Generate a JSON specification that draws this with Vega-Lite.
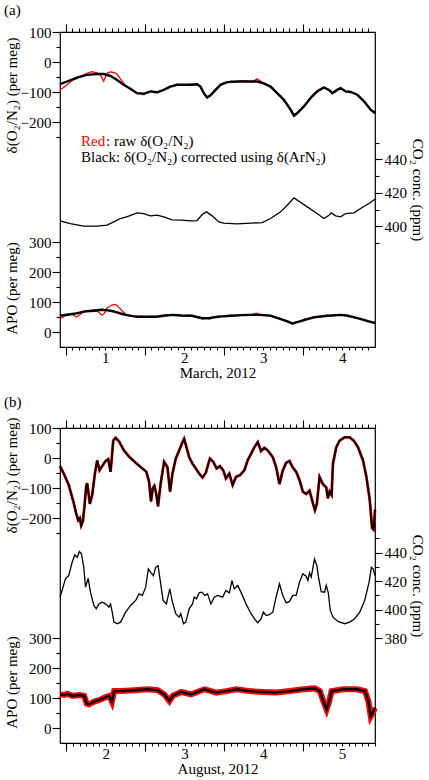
{
  "$schema": "https://vega.github.io/schema/vega-lite/v6.json",
  "padding": {"top": 2, "left": 3, "right": 2, "bottom": 0},
  "spacing": 13,
  "config": {
    "font": "Liberation Serif",
    "view": {"stroke": "black", "strokeWidth": 1.2},
    "axis": {
      "grid": false, "ticks": true, "domain": false, "tickColor": "#000000", "tickWidth": 1.1, "tickOpacity": 1,
      "labelColor": "black", "titleColor": "black", "labelFont": "Liberation Serif", "titleFont": "Liberation Serif",
      "labelFontSize": 15, "titleFontSize": 15, "titleFontWeight": "normal", "labelFlush": false, "labelOverlap": false
    },
    "title": {"font": "Liberation Serif", "fontSize": 15, "fontWeight": "normal", "anchor": "start", "color": "black"},
    "text": {"font": "Liberation Serif", "fontSize": 15, "color": "black"}
  },
  "datasets": {
    "a_o2cor": [
      {"day":0.428,"o2":-74},{"day":0.517,"o2":-65},{"day":0.643,"o2":-52},{"day":0.770,"o2":-43},{"day":0.897,"o2":-40},
      {"day":0.981,"o2":-40},{"day":1.066,"o2":-46},{"day":1.150,"o2":-60},{"day":1.235,"o2":-76},{"day":1.319,"o2":-89},
      {"day":1.404,"o2":-104},{"day":1.488,"o2":-106},{"day":1.573,"o2":-98},{"day":1.657,"o2":-101},{"day":1.742,"o2":-93},
      {"day":1.826,"o2":-82},{"day":1.911,"o2":-76},{"day":1.995,"o2":-76},{"day":2.080,"o2":-76},{"day":2.164,"o2":-74},
      {"day":2.207,"o2":-82},{"day":2.249,"o2":-104},{"day":2.291,"o2":-118},{"day":2.333,"o2":-111},{"day":2.397,"o2":-93},
      {"day":2.460,"o2":-76},{"day":2.545,"o2":-67},{"day":2.671,"o2":-65},{"day":2.798,"o2":-65},{"day":2.925,"o2":-65},
      {"day":3.009,"o2":-71},{"day":3.094,"o2":-82},{"day":3.178,"o2":-104},{"day":3.263,"o2":-126},{"day":3.347,"o2":-159},
      {"day":3.390,"o2":-178},{"day":3.432,"o2":-170},{"day":3.516,"o2":-148},{"day":3.601,"o2":-120},{"day":3.685,"o2":-98},
      {"day":3.770,"o2":-85},{"day":3.833,"o2":-93},{"day":3.875,"o2":-104},{"day":3.939,"o2":-93},{"day":3.981,"o2":-87},
      {"day":4.044,"o2":-98},{"day":4.108,"o2":-100},{"day":4.192,"o2":-109},{"day":4.277,"o2":-131},{"day":4.361,"o2":-159},
      {"day":4.416,"o2":-170}
    ],
    "a_o2raw": [
      {"day":0.428,"o2":-92},{"day":0.47,"o2":-86},{"day":0.517,"o2":-76},{"day":0.58,"o2":-62},{"day":0.643,"o2":-55},
      {"day":0.70,"o2":-46},{"day":0.770,"o2":-38},{"day":0.83,"o2":-32},{"day":0.897,"o2":-36},{"day":0.94,"o2":-44},
      {"day":0.981,"o2":-64},{"day":1.00,"o2":-52},{"day":1.03,"o2":-36},{"day":1.066,"o2":-33},{"day":1.108,"o2":-35},
      {"day":1.150,"o2":-40},{"day":1.193,"o2":-56},{"day":1.235,"o2":-72},{"day":1.28,"o2":-83},{"day":1.319,"o2":-90},
      {"day":1.36,"o2":-98},{"day":1.404,"o2":-106},{"day":1.45,"o2":-104},{"day":1.488,"o2":-109},{"day":1.53,"o2":-100},
      {"day":1.573,"o2":-97},{"day":1.62,"o2":-103},{"day":1.657,"o2":-100},{"day":1.70,"o2":-96},{"day":1.742,"o2":-92},
      {"day":1.78,"o2":-86},{"day":1.826,"o2":-80},{"day":1.87,"o2":-78},{"day":1.911,"o2":-74},{"day":1.95,"o2":-78},
      {"day":1.995,"o2":-75},{"day":2.04,"o2":-78},{"day":2.080,"o2":-74},{"day":2.12,"o2":-77},{"day":2.164,"o2":-72},
      {"day":2.207,"o2":-84},{"day":2.249,"o2":-106},{"day":2.291,"o2":-120},{"day":2.333,"o2":-112},{"day":2.397,"o2":-95},
      {"day":2.460,"o2":-75},{"day":2.50,"o2":-70},{"day":2.545,"o2":-68},{"day":2.60,"o2":-64},{"day":2.671,"o2":-66},
      {"day":2.73,"o2":-62},{"day":2.798,"o2":-64},{"day":2.86,"o2":-66},{"day":2.925,"o2":-56},{"day":2.96,"o2":-63},
      {"day":3.009,"o2":-72},{"day":3.05,"o2":-76},{"day":3.094,"o2":-84},{"day":3.14,"o2":-94},{"day":3.178,"o2":-106},
      {"day":3.22,"o2":-115},{"day":3.263,"o2":-130},{"day":3.30,"o2":-140},{"day":3.347,"o2":-162},{"day":3.390,"o2":-182},
      {"day":3.432,"o2":-172},{"day":3.47,"o2":-160},{"day":3.516,"o2":-146},{"day":3.56,"o2":-132},{"day":3.601,"o2":-118},
      {"day":3.64,"o2":-106},{"day":3.685,"o2":-96},{"day":3.73,"o2":-88},{"day":3.770,"o2":-83},{"day":3.80,"o2":-88},
      {"day":3.833,"o2":-94},{"day":3.875,"o2":-102},{"day":3.91,"o2":-95},{"day":3.939,"o2":-91},{"day":3.981,"o2":-85},
      {"day":4.01,"o2":-92},{"day":4.044,"o2":-99},{"day":4.08,"o2":-97},{"day":4.108,"o2":-101},{"day":4.15,"o2":-104},
      {"day":4.192,"o2":-110},{"day":4.23,"o2":-120},{"day":4.277,"o2":-132},{"day":4.32,"o2":-146},{"day":4.361,"o2":-160},
      {"day":4.39,"o2":-166},{"day":4.416,"o2":-172}
    ],
    "a_co2": [
      {"day":0.428,"co2":403.2},{"day":0.559,"co2":401.6},{"day":0.728,"co2":400.0},{"day":0.897,"co2":400.0},{"day":1.024,"co2":400.6},
      {"day":1.108,"co2":402.6},{"day":1.193,"co2":404.6},{"day":1.298,"co2":406.0},{"day":1.404,"co2":408.0},{"day":1.488,"co2":407.6},
      {"day":1.573,"co2":406.2},{"day":1.657,"co2":406.6},{"day":1.742,"co2":405.6},{"day":1.848,"co2":403.8},{"day":1.974,"co2":403.6},
      {"day":2.080,"co2":403.2},{"day":2.164,"co2":403.4},{"day":2.228,"co2":407.0},{"day":2.283,"co2":408.6},{"day":2.354,"co2":406.2},
      {"day":2.439,"co2":402.6},{"day":2.502,"co2":401.8},{"day":2.671,"co2":401.4},{"day":2.840,"co2":401.8},{"day":2.988,"co2":402.2},
      {"day":3.094,"co2":404.6},{"day":3.221,"co2":408.6},{"day":3.326,"co2":413.6},{"day":3.390,"co2":417.0},{"day":3.453,"co2":415.0},
      {"day":3.559,"co2":411.6},{"day":3.664,"co2":408.2},{"day":3.770,"co2":404.6},{"day":3.833,"co2":406.6},{"day":3.863,"co2":408.0},
      {"day":3.918,"co2":406.2},{"day":3.981,"co2":405.6},{"day":4.044,"co2":407.6},{"day":4.150,"co2":408.0},{"day":4.234,"co2":410.6},
      {"day":4.340,"co2":413.6},{"day":4.416,"co2":416.2}
    ],
    "a_apocor": [
      {"day":0.428,"apo":54},{"day":0.58,"apo":60},{"day":0.631,"apo":62},{"day":0.733,"apo":68},{"day":0.833,"apo":71},
      {"day":0.96,"apo":74},{"day":1.011,"apo":73},{"day":1.087,"apo":70},{"day":1.138,"apo":66},{"day":1.214,"apo":60},
      {"day":1.264,"apo":57},{"day":1.35,"apo":53},{"day":1.429,"apo":51},{"day":1.644,"apo":51},{"day":1.847,"apo":57},
      {"day":1.95,"apo":55},{"day":2.101,"apo":54},{"day":2.228,"apo":46},{"day":2.316,"apo":46},{"day":2.38,"apo":49},
      {"day":2.48,"apo":52},{"day":2.591,"apo":54},{"day":2.798,"apo":57},{"day":2.971,"apo":57},{"day":3.098,"apo":54},
      {"day":3.225,"apo":43},{"day":3.30,"apo":36},{"day":3.372,"apo":29},{"day":3.478,"apo":36},{"day":3.56,"apo":43},
      {"day":3.647,"apo":49},{"day":3.812,"apo":54},{"day":3.985,"apo":57},{"day":4.07,"apo":54},{"day":4.154,"apo":49},
      {"day":4.24,"apo":43},{"day":4.323,"apo":36},{"day":4.416,"apo":30}
    ],
    "a_aporaw": [
      {"day":0.428,"apo":44},{"day":0.47,"apo":50},{"day":0.504,"apo":56},{"day":0.54,"apo":58},{"day":0.58,"apo":60},
      {"day":0.631,"apo":50},{"day":0.68,"apo":58},{"day":0.733,"apo":70},{"day":0.78,"apo":72},{"day":0.833,"apo":68},
      {"day":0.90,"apo":70},{"day":0.96,"apo":56},{"day":0.99,"apo":62},{"day":1.023,"apo":80},{"day":1.06,"apo":86},
      {"day":1.087,"apo":90},{"day":1.12,"apo":92},{"day":1.15,"apo":88},{"day":1.19,"apo":78},{"day":1.214,"apo":70},
      {"day":1.264,"apo":58},{"day":1.31,"apo":54},{"day":1.35,"apo":53},{"day":1.40,"apo":49},{"day":1.45,"apo":53},
      {"day":1.52,"apo":50},{"day":1.60,"apo":53},{"day":1.644,"apo":50},{"day":1.70,"apo":55},{"day":1.78,"apo":58},
      {"day":1.847,"apo":56},{"day":1.92,"apo":58},{"day":2.00,"apo":54},{"day":2.06,"apo":57},{"day":2.101,"apo":53},
      {"day":2.17,"apo":48},{"day":2.228,"apo":44},{"day":2.28,"apo":47},{"day":2.316,"apo":44},{"day":2.38,"apo":50},
      {"day":2.44,"apo":53},{"day":2.52,"apo":51},{"day":2.591,"apo":56},{"day":2.66,"apo":54},{"day":2.72,"apo":58},
      {"day":2.798,"apo":55},{"day":2.87,"apo":59},{"day":2.92,"apo":63},{"day":2.971,"apo":56},{"day":3.04,"apo":57},
      {"day":3.098,"apo":52},{"day":3.16,"apo":48},{"day":3.225,"apo":42},{"day":3.30,"apo":34},{"day":3.372,"apo":26},
      {"day":3.42,"apo":32},{"day":3.478,"apo":38},{"day":3.53,"apo":44},{"day":3.60,"apo":47},{"day":3.647,"apo":51},
      {"day":3.72,"apo":50},{"day":3.812,"apo":56},{"day":3.88,"apo":53},{"day":3.94,"apo":58},{"day":3.985,"apo":55},
      {"day":4.05,"apo":58},{"day":4.11,"apo":52},{"day":4.154,"apo":50},{"day":4.22,"apo":45},{"day":4.28,"apo":40},
      {"day":4.323,"apo":38},{"day":4.37,"apo":33},{"day":4.416,"apo":31}
    ],
    "b_o2": [
      {"day":1.419,"o2":-27},{"day":1.466,"o2":-52},{"day":1.529,"o2":-90},{"day":1.593,"o2":-150},{"day":1.623,"o2":-185},
      {"day":1.648,"o2":-207},{"day":1.670,"o2":-200},{"day":1.687,"o2":-225},{"day":1.708,"o2":-211},{"day":1.729,"o2":-161},
      {"day":1.750,"o2":-95},{"day":1.763,"o2":-84},{"day":1.780,"o2":-117},{"day":1.797,"o2":-153},{"day":1.827,"o2":-123},
      {"day":1.861,"o2":-52},{"day":1.890,"o2":-8},{"day":1.920,"o2":-41},{"day":1.954,"o2":-27},{"day":1.997,"o2":-10},
      {"day":2.030,"o2":-4},{"day":2.060,"o2":-46},{"day":2.073,"o2":-8},{"day":2.094,"o2":58},{"day":2.124,"o2":67},
      {"day":2.166,"o2":56},{"day":2.230,"o2":25},{"day":2.294,"o2":5},{"day":2.379,"o2":-16},{"day":2.464,"o2":-35},
      {"day":2.514,"o2":-46},{"day":2.549,"o2":-79},{"day":2.574,"o2":-145},{"day":2.595,"o2":-101},{"day":2.616,"o2":-93},
      {"day":2.638,"o2":-117},{"day":2.663,"o2":-161},{"day":2.697,"o2":-84},{"day":2.740,"o2":-13},{"day":2.782,"o2":-30},
      {"day":2.816,"o2":-112},{"day":2.846,"o2":-52},{"day":2.888,"o2":-2},{"day":2.931,"o2":25},{"day":2.965,"o2":47},
      {"day":2.994,"o2":64},{"day":3.024,"o2":36},{"day":3.058,"o2":3},{"day":3.101,"o2":-19},{"day":3.143,"o2":-35},
      {"day":3.185,"o2":-52},{"day":3.228,"o2":-65},{"day":3.270,"o2":-49},{"day":3.321,"o2":-2},{"day":3.364,"o2":-13},
      {"day":3.406,"o2":-35},{"day":3.449,"o2":-27},{"day":3.491,"o2":-41},{"day":3.525,"o2":-68},{"day":3.568,"o2":-52},
      {"day":3.610,"o2":-90},{"day":3.653,"o2":-63},{"day":3.704,"o2":-57},{"day":3.759,"o2":-41},{"day":3.801,"o2":-8},
      {"day":3.844,"o2":14},{"day":3.886,"o2":36},{"day":3.929,"o2":53},{"day":3.971,"o2":23},{"day":4.013,"o2":34},
      {"day":4.056,"o2":25},{"day":4.120,"o2":3},{"day":4.162,"o2":-30},{"day":4.205,"o2":-87},{"day":4.247,"o2":-41},
      {"day":4.290,"o2":-16},{"day":4.332,"o2":-10},{"day":4.374,"o2":-32},{"day":4.417,"o2":-46},{"day":4.460,"o2":-74},
      {"day":4.502,"o2":-112},{"day":4.544,"o2":-120},{"day":4.587,"o2":-109},{"day":4.629,"o2":-150},{"day":4.655,"o2":-174},
      {"day":4.680,"o2":-153},{"day":4.714,"o2":-63},{"day":4.757,"o2":-87},{"day":4.799,"o2":-98},{"day":4.820,"o2":-134},
      {"day":4.842,"o2":-112},{"day":4.867,"o2":-123},{"day":4.884,"o2":-19},{"day":4.926,"o2":36},{"day":4.969,"o2":58},
      {"day":5.033,"o2":69},{"day":5.096,"o2":69},{"day":5.147,"o2":58},{"day":5.202,"o2":36},{"day":5.266,"o2":-8},
      {"day":5.309,"o2":-63},{"day":5.351,"o2":-139},{"day":5.381,"o2":-233},{"day":5.398,"o2":-238},{"day":5.411,"o2":-205},
      {"day":5.418,"o2":-172}
    ],
    "b_co2": [
      {"day":1.419,"co2":408.8},{"day":1.444,"co2":413.4},{"day":1.487,"co2":421.6},{"day":1.529,"co2":423.9},{"day":1.572,"co2":433.2},
      {"day":1.606,"co2":438.3},{"day":1.636,"co2":436.7},{"day":1.665,"co2":440.7},{"day":1.691,"co2":439.0},{"day":1.720,"co2":429.7},
      {"day":1.742,"co2":415.8},{"day":1.776,"co2":422.0},{"day":1.805,"co2":412.3},{"day":1.848,"co2":403.0},{"day":1.878,"co2":400.6},
      {"day":1.912,"co2":404.1},{"day":1.954,"co2":405.3},{"day":1.997,"co2":404.1},{"day":2.039,"co2":401.8},{"day":2.060,"co2":404.1},
      {"day":2.081,"co2":398.3},{"day":2.103,"co2":391.3},{"day":2.145,"co2":390.2},{"day":2.188,"co2":391.3},{"day":2.251,"co2":398.3},
      {"day":2.315,"co2":403.0},{"day":2.379,"co2":406.5},{"day":2.421,"co2":411.1},{"day":2.464,"co2":410.0},{"day":2.506,"co2":415.8},
      {"day":2.540,"co2":428.6},{"day":2.570,"co2":426.2},{"day":2.604,"co2":423.9},{"day":2.633,"co2":429.7},{"day":2.663,"co2":430.9},
      {"day":2.697,"co2":418.1},{"day":2.727,"co2":406.5},{"day":2.769,"co2":404.1},{"day":2.812,"co2":414.6},{"day":2.846,"co2":405.3},
      {"day":2.888,"co2":397.2},{"day":2.931,"co2":394.8},{"day":2.952,"co2":397.2},{"day":2.986,"co2":390.2},{"day":3.016,"co2":391.3},
      {"day":3.058,"co2":400.6},{"day":3.101,"co2":404.1},{"day":3.122,"co2":408.8},{"day":3.151,"co2":407.6},{"day":3.185,"co2":411.8},
      {"day":3.219,"co2":412.3},{"day":3.258,"co2":410.0},{"day":3.292,"co2":411.1},{"day":3.334,"co2":404.1},{"day":3.377,"co2":408.8},
      {"day":3.419,"co2":410.0},{"day":3.483,"co2":408.8},{"day":3.525,"co2":413.4},{"day":3.568,"co2":411.8},{"day":3.602,"co2":420.4},
      {"day":3.631,"co2":414.6},{"day":3.674,"co2":417.0},{"day":3.716,"co2":412.3},{"day":3.780,"co2":404.1},{"day":3.844,"co2":397.2},
      {"day":3.886,"co2":393.7},{"day":3.929,"co2":390.9},{"day":3.971,"co2":393.7},{"day":4.001,"co2":398.3},{"day":4.035,"co2":396.0},
      {"day":4.077,"co2":396.5},{"day":4.120,"co2":398.3},{"day":4.162,"co2":408.8},{"day":4.205,"co2":418.1},{"day":4.247,"co2":410.0},
      {"day":4.290,"co2":404.8},{"day":4.332,"co2":405.8},{"day":4.374,"co2":410.0},{"day":4.417,"co2":410.0},{"day":4.459,"co2":419.3},
      {"day":4.502,"co2":425.1},{"day":4.544,"co2":423.4},{"day":4.566,"co2":420.4},{"day":4.587,"co2":425.8},{"day":4.608,"co2":422.8},
      {"day":4.650,"co2":435.5},{"day":4.680,"co2":430.9},{"day":4.697,"co2":423.9},{"day":4.735,"co2":412.7},{"day":4.778,"co2":412.3},
      {"day":4.799,"co2":417.0},{"day":4.825,"co2":411.8},{"day":4.850,"co2":399.5},{"day":4.884,"co2":394.8},{"day":4.948,"co2":391.8},
      {"day":5.033,"co2":390.2},{"day":5.096,"co2":391.3},{"day":5.160,"co2":393.7},{"day":5.224,"co2":398.3},{"day":5.287,"co2":406.5},
      {"day":5.343,"co2":419.3},{"day":5.372,"co2":429.7},{"day":5.394,"co2":428.6},{"day":5.418,"co2":423.9}
    ],
    "b_apo": [
      {"day":1.419,"apo":112},{"day":1.470,"apo":110},{"day":1.513,"apo":114},{"day":1.576,"apo":107},{"day":1.661,"apo":110},
      {"day":1.724,"apo":107},{"day":1.759,"apo":81},{"day":1.788,"apo":79},{"day":1.852,"apo":88},{"day":1.937,"apo":95},
      {"day":2.001,"apo":103},{"day":2.043,"apo":107},{"day":2.077,"apo":88},{"day":2.106,"apo":123},{"day":2.192,"apo":123},
      {"day":2.361,"apo":126},{"day":2.532,"apo":129},{"day":2.659,"apo":126},{"day":2.743,"apo":112},{"day":2.807,"apo":90},
      {"day":2.850,"apo":107},{"day":2.956,"apo":120},{"day":3.083,"apo":112},{"day":3.169,"apo":121},{"day":3.253,"apo":129},
      {"day":3.360,"apo":121},{"day":3.402,"apo":118},{"day":3.529,"apo":123},{"day":3.657,"apo":129},{"day":3.826,"apo":123},
      {"day":3.997,"apo":120},{"day":4.166,"apo":118},{"day":4.336,"apo":123},{"day":4.506,"apo":129},{"day":4.654,"apo":132},
      {"day":4.718,"apo":123},{"day":4.761,"apo":90},{"day":4.803,"apo":62},{"day":4.838,"apo":90},{"day":4.867,"apo":123},
      {"day":5.016,"apo":129},{"day":5.185,"apo":129},{"day":5.291,"apo":123},{"day":5.334,"apo":90},{"day":5.364,"apo":39},
      {"day":5.389,"apo":51},{"day":5.418,"apo":67}
    ]
  },
  "vconcat": [
    {
      "title": {"text": "(a)", "offset": 5},
      "width": 315,
      "height": 315,
      "resolve": {"scale": {"y": "independent"}, "axis": {"x": "independent", "y": "independent"}},
      "layer": [
        {
          "data": {"name": "a_o2raw"},
          "mark": {"type": "line", "color": "#ff0000", "strokeWidth": 1.3},
          "encoding": {
            "x": {
              "field": "day", "type": "quantitative",
              "scale": {"domain": [0.428, 4.416], "nice": false, "zero": false},
              "axis": {
                "orient": "bottom", "title": "March, 2012", "titlePadding": 0, "labelPadding": 0, "tickSize": 3,
                "values": [0.5,0.5833,0.6667,0.75,0.8333,0.9167,1,1.0833,1.1667,1.25,1.3333,1.4167,1.5,1.5833,1.6667,1.75,1.8333,1.9167,2,2.0833,2.1667,2.25,2.3333,2.4167,2.5,2.5833,2.6667,2.75,2.8333,2.9167,3,3.0833,3.1667,3.25,3.3333,3.4167,3.5,3.5833,3.6667,3.75,3.8333,3.9167,4,4.0833,4.1667,4.25,4.3333],
                "labelExpr": "abs(datum.value - round(datum.value)) < 0.01 ? format(datum.value, 'd') : ''"
              }
            },
            "y": {
              "field": "o2", "type": "quantitative",
              "scale": {"domain": [-950, 100], "nice": false, "zero": false},
              "axis": {
                "orient": "left", "title": "δ(O₂/N₂)  (per meg)", "titleX": -41, "titleY": 63, "labelPadding": 5, "tickSize": 4,
                "values": [-250,-200,-150,-100,-50,0,50,100],
                "labelExpr": "abs(datum.value % 100) < 0.5 ? datum.label : ''"
              }
            }
          }
        },
        {
          "data": {"name": "a_o2cor"},
          "mark": {"type": "line", "color": "black", "strokeWidth": 2.4},
          "encoding": {
            "x": {
              "field": "day", "type": "quantitative",
              "axis": {
                "orient": "top", "title": null, "labels": false, "tickSize": 4,
                "values": [0.5,0.5833,0.6667,0.75,0.8333,0.9167,1,1.0833,1.1667,1.25,1.3333,1.4167,1.5,1.5833,1.6667,1.75,1.8333,1.9167,2,2.0833,2.1667,2.25,2.3333,2.4167,2.5,2.5833,2.6667,2.75,2.8333,2.9167,3,3.0833,3.1667,3.25,3.3333,3.4167,3.5,3.5833,3.6667,3.75,3.8333,3.9167,4,4.0833,4.1667,4.25,4.3333]
              }
            },
            "y": {
              "field": "o2", "type": "quantitative", "scale": {"domain": [-950, 100], "nice": false, "zero": false},
              "axis": {"orient": "left", "title": null, "labels": false, "tickSize": 8, "values": [-200,-100,0,100]}
            }
          }
        },
        {
          "data": {"name": "a_co2"},
          "mark": {"type": "line", "color": "black", "strokeWidth": 1.3},
          "encoding": {
            "x": {
              "field": "day", "type": "quantitative",
              "axis": {"orient": "bottom", "title": null, "labels": false, "tickSize": 8, "values": [0.5,1.5,2.5,3.5]}
            },
            "y": {
              "field": "co2", "type": "quantitative",
              "scale": {"domain": [327.6, 516.4], "nice": false, "zero": false},
              "axis": {
                "orient": "right", "title": "CO₂ conc.  (ppm)", "labelPadding": 5, "titlePadding": 3, "tickSize": 4,
                "values": [390,400,410,420,430,440,450],
                "labelExpr": "datum.value % 20 == 0 ? datum.label : ''"
              }
            }
          }
        },
        {
          "data": {"name": "a_co2"},
          "mark": {"type": "line", "color": "black", "strokeWidth": 1.3, "opacity": 0},
          "encoding": {
            "x": {
              "field": "day", "type": "quantitative",
              "axis": {"orient": "top", "title": null, "labels": false, "tickSize": 8, "values": [0.5,1.5,2.5,3.5]}
            },
            "y": {
              "field": "co2", "type": "quantitative",
              "scale": {"domain": [327.6, 516.4], "nice": false, "zero": false},
              "axis": {"orient": "right", "title": null, "labels": false, "tickSize": 7, "values": [400,420,440]}
            }
          }
        },
        {
          "data": {"name": "a_aporaw"},
          "mark": {"type": "line", "color": "#ff0000", "strokeWidth": 1.3},
          "encoding": {
            "x": {"field": "day", "type": "quantitative", "axis": null},
            "y": {
              "field": "apo", "type": "quantitative",
              "scale": {"domain": [-50, 1000], "nice": false, "zero": false},
              "axis": {
                "orient": "left", "title": "APO  (per meg)", "titleX": -41, "titleY": 256, "labelPadding": 5, "tickSize": 4,
                "values": [0,50,100,150,200,250,300],
                "labelExpr": "abs(datum.value % 100) < 0.5 ? datum.label : ''"
              }
            }
          }
        },
        {
          "data": {"name": "a_apocor"},
          "mark": {"type": "line", "color": "black", "strokeWidth": 2.4},
          "encoding": {
            "x": {"field": "day", "type": "quantitative", "axis": null},
            "y": {
              "field": "apo", "type": "quantitative", "scale": {"domain": [-50, 1000], "nice": false, "zero": false},
              "axis": {"orient": "left", "title": null, "labels": false, "tickSize": 8, "values": [0,100,200,300]}
            }
          }
        },
        {
          "data": {"values": [{}]},
          "mark": {"type": "text", "align": "left", "baseline": "middle", "color": "#ff0000"},
          "encoding": {
            "x": {"datum": 0.694, "type": "quantitative", "axis": null},
            "y": {"datum": -263, "type": "quantitative", "scale": {"domain": [-950, 100], "nice": false, "zero": false}, "axis": null},
            "text": {"value": "Red"}
          }
        },
        {
          "data": {"values": [{}]},
          "mark": {"type": "text", "align": "left", "baseline": "middle", "dx": 25},
          "encoding": {
            "x": {"datum": 0.694, "type": "quantitative", "axis": null},
            "y": {"datum": -263, "type": "quantitative", "scale": {"domain": [-950, 100], "nice": false, "zero": false}, "axis": null},
            "text": {"value": ": raw δ(O₂/N₂)"}
          }
        },
        {
          "data": {"values": [{}]},
          "mark": {"type": "text", "align": "left", "baseline": "middle"},
          "encoding": {
            "x": {"datum": 0.694, "type": "quantitative", "axis": null},
            "y": {"datum": -318, "type": "quantitative", "scale": {"domain": [-950, 100], "nice": false, "zero": false}, "axis": null},
            "text": {"value": "Black: δ(O₂/N₂)  corrected using δ(ArN₂)"}
          }
        }
      ]
    },
    {
      "title": {"text": "(b)", "offset": 5},
      "width": 315,
      "height": 315,
      "resolve": {"scale": {"y": "independent"}, "axis": {"x": "independent", "y": "independent"}},
      "layer": [
        {
          "data": {"name": "b_o2"},
          "mark": {"type": "line", "color": "#ff0000", "strokeWidth": 2.8},
          "encoding": {
            "x": {
              "field": "day", "type": "quantitative",
              "scale": {"domain": [1.418, 5.418], "nice": false, "zero": false},
              "axis": {
                "orient": "bottom", "title": "August, 2012", "titlePadding": 0, "labelPadding": 0, "tickSize": 3,
                "values": [1.5,1.5833,1.6667,1.75,1.8333,1.9167,2,2.0833,2.1667,2.25,2.3333,2.4167,2.5,2.5833,2.6667,2.75,2.8333,2.9167,3,3.0833,3.1667,3.25,3.3333,3.4167,3.5,3.5833,3.6667,3.75,3.8333,3.9167,4,4.0833,4.1667,4.25,4.3333,4.4167,4.5,4.5833,4.6667,4.75,4.8333,4.9167,5,5.0833,5.1667,5.25,5.3333,5.4167],
                "labelExpr": "abs(datum.value - round(datum.value)) < 0.01 ? format(datum.value, 'd') : ''"
              }
            },
            "y": {
              "field": "o2", "type": "quantitative",
              "scale": {"domain": [-950, 100], "nice": false, "zero": false},
              "axis": {
                "orient": "left", "title": "δ(O₂/N₂)  (per meg)", "titleX": -41, "titleY": 47, "labelPadding": 5, "tickSize": 4,
                "values": [-250,-200,-150,-100,-50,0,50,100],
                "labelExpr": "abs(datum.value % 100) < 0.5 ? datum.label : ''"
              }
            }
          }
        },
        {
          "data": {"name": "b_o2"},
          "mark": {"type": "line", "color": "black", "strokeWidth": 1.9},
          "encoding": {
            "x": {
              "field": "day", "type": "quantitative",
              "axis": {
                "orient": "top", "title": null, "labels": false, "tickSize": 4,
                "values": [1.5,1.5833,1.6667,1.75,1.8333,1.9167,2,2.0833,2.1667,2.25,2.3333,2.4167,2.5,2.5833,2.6667,2.75,2.8333,2.9167,3,3.0833,3.1667,3.25,3.3333,3.4167,3.5,3.5833,3.6667,3.75,3.8333,3.9167,4,4.0833,4.1667,4.25,4.3333,4.4167,4.5,4.5833,4.6667,4.75,4.8333,4.9167,5,5.0833,5.1667,5.25,5.3333,5.4167]
              }
            },
            "y": {
              "field": "o2", "type": "quantitative", "scale": {"domain": [-950, 100], "nice": false, "zero": false},
              "axis": {"orient": "left", "title": null, "labels": false, "tickSize": 8, "values": [-200,-100,0,100]}
            }
          }
        },
        {
          "data": {"name": "b_co2"},
          "mark": {"type": "line", "color": "black", "strokeWidth": 1.3},
          "encoding": {
            "x": {
              "field": "day", "type": "quantitative",
              "axis": {"orient": "bottom", "title": null, "labels": false, "tickSize": 8, "values": [1.5,2.5,3.5,4.5]}
            },
            "y": {
              "field": "co2", "type": "quantitative",
              "scale": {"domain": [306.7, 527.2], "nice": false, "zero": false},
              "axis": {
                "orient": "right", "title": "CO₂ conc.  (ppm)", "labelPadding": 5, "titlePadding": 3, "tickSize": 4,
                "values": [380,390,400,410,420,430,440,450],
                "labelExpr": "datum.value % 20 == 0 ? datum.label : ''"
              }
            }
          }
        },
        {
          "data": {"name": "b_co2"},
          "mark": {"type": "line", "color": "black", "strokeWidth": 1.3, "opacity": 0},
          "encoding": {
            "x": {
              "field": "day", "type": "quantitative",
              "axis": {"orient": "top", "title": null, "labels": false, "tickSize": 8, "values": [1.5,2.5,3.5,4.5]}
            },
            "y": {
              "field": "co2", "type": "quantitative",
              "scale": {"domain": [306.7, 527.2], "nice": false, "zero": false},
              "axis": {"orient": "right", "title": null, "labels": false, "tickSize": 7, "values": [380,400,420,440]}
            }
          }
        },
        {
          "data": {"name": "b_apo"},
          "mark": {"type": "line", "color": "#ff0000", "strokeWidth": 6},
          "encoding": {
            "x": {"field": "day", "type": "quantitative", "axis": null},
            "y": {
              "field": "apo", "type": "quantitative",
              "scale": {"domain": [-50, 1000], "nice": false, "zero": false},
              "axis": {
                "orient": "left", "title": "APO  (per meg)", "titleX": -41, "titleY": 254, "labelPadding": 5, "tickSize": 4,
                "values": [0,50,100,150,200,250,300],
                "labelExpr": "abs(datum.value % 100) < 0.5 ? datum.label : ''"
              }
            }
          }
        },
        {
          "data": {"name": "b_apo"},
          "mark": {"type": "line", "color": "black", "strokeWidth": 2.4},
          "encoding": {
            "x": {"field": "day", "type": "quantitative", "axis": null},
            "y": {
              "field": "apo", "type": "quantitative", "scale": {"domain": [-50, 1000], "nice": false, "zero": false},
              "axis": {"orient": "left", "title": null, "labels": false, "tickSize": 8, "values": [0,100,200,300]}
            }
          }
        }
      ]
    }
  ]
}
